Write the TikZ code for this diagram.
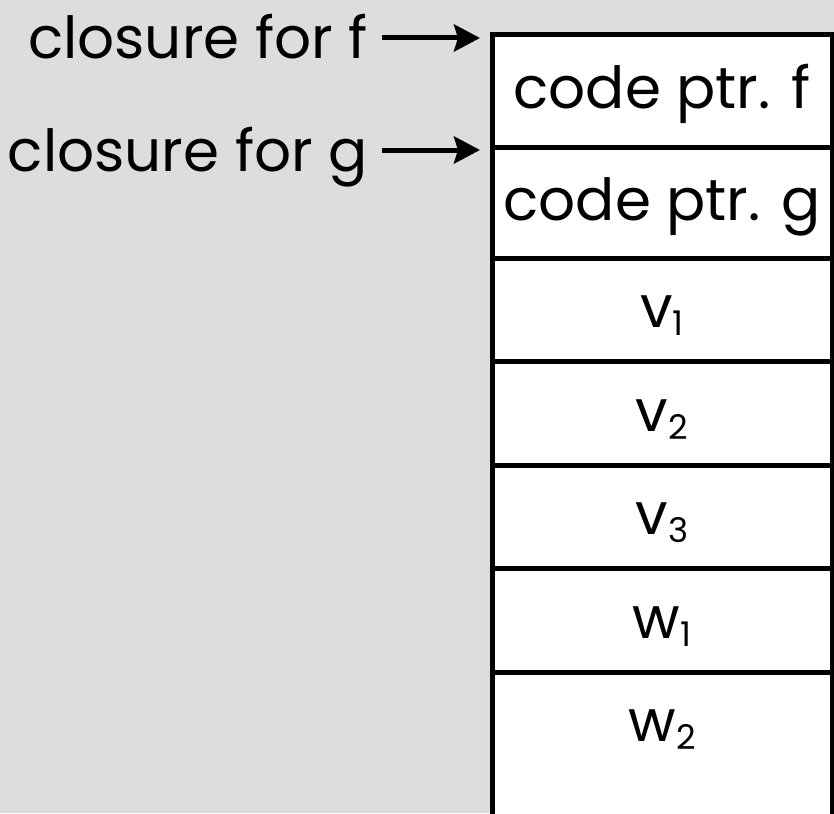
\documentclass[tikz,border=0pt]{standalone}
\usepackage{fontspec}
\setmainfont{Poppins}
\usetikzlibrary{arrows.meta}
\definecolor{bgray}{RGB}{220,221,223}
\newcommand{\lowsub}[1]{\raisebox{-4pt}{\fontsize{17}{17}\selectfont #1}}
\tikzset{
  cell/.style={draw,line width=2.5pt,fill=white,anchor=north west,inner sep=0pt,outer sep=0pt,
    minimum width=170pt,text height=21pt,text depth=3pt,font=\fontsize{29}{31}\selectfont},
  lbl/.style={anchor=base east,inner xsep=7pt,inner ysep=0pt,font=\fontsize{29}{31}\selectfont},
  ptr/.style={line width=2.5pt,-{Stealth[length=13pt,width=13.5pt,inset=2pt]}}
}
\begin{document}
\begin{tikzpicture}[x=0.5pt,y=-0.5pt]
		\clip(0,0)rectangle(834,813);
		\fill[bgray](0,0)rectangle(834,813);
		% last slot runs on past the bottom edge
		\node[cell,draw=none,minimum height=51.75pt](w2)at(492,672){w\lowsub{2}};
		\fill[white](w2.south west)rectangle([yshift=-40pt]w2.south east);
		\draw[line width=2.5pt](w2.north west)--++(0,-100pt)(w2.north east)--++(0,-100pt);
		\node[cell,minimum height=56pt](cpf)at(492,35){code ptr. f};
		\node[cell,minimum height=55.5pt](cpg)at(492,147){code ptr. g};
		\foreach \n/\t [count=\i] in {v1/v\lowsub{1},v2/v\lowsub{2},v3/v\lowsub{3},w1/w\lowsub{1}}{\node[cell,minimum height=51.75pt](\n)at(492,{258+103.5*(\i-1)}){\t};}
		\coordinate(tf)at([xshift=-6pt,yshift=-1.5pt]cpf.north west);
		\coordinate(tg)at([xshift=-6pt,yshift=-1.5pt]cpg.north west);
		\node[lbl](lf)at(382,59){closure for f};
		\node[lbl](lg)at(382,171){closure for g};
		\draw[ptr](lf.east|-tf)--(tf);
		\draw[ptr](lg.east|-tg)--(tg);
		\end{tikzpicture}
\end{document}
